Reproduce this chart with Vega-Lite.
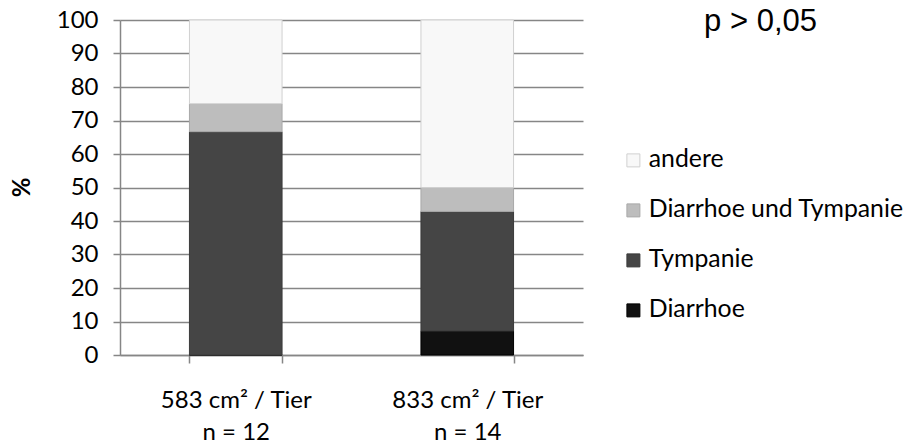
{
  "$schema": "https://vega.github.io/schema/vega-lite/v6.json",
  "width": 463,
  "height": 335,
  "autosize": "none",
  "padding": {"left": 120, "top": 20, "right": 320, "bottom": 89},
  "background": "white",
  "config": {"view": {"stroke": null}, "font": "Lato"},
  "title": {
    "text": "p > 0,05",
    "font": "Liberation Sans",
    "fontSize": 31,
    "fontWeight": "normal",
    "color": "#000000",
    "anchor": "end",
    "frame": "group",
    "offset": 0,
    "dx": 234,
    "dy": 30
  },
  "data": {
    "values": [
      {"group": "583 cm² / Tier\nn = 12", "series": "Diarrhoe", "percent": 0},
      {"group": "583 cm² / Tier\nn = 12", "series": "Tympanie", "percent": 66.67},
      {"group": "583 cm² / Tier\nn = 12", "series": "Diarrhoe und Tympanie", "percent": 8.33},
      {"group": "583 cm² / Tier\nn = 12", "series": "andere", "percent": 25},
      {"group": "833 cm² / Tier\nn = 14", "series": "Diarrhoe", "percent": 7.14},
      {"group": "833 cm² / Tier\nn = 14", "series": "Tympanie", "percent": 35.71},
      {"group": "833 cm² / Tier\nn = 14", "series": "Diarrhoe und Tympanie", "percent": 7.15},
      {"group": "833 cm² / Tier\nn = 14", "series": "andere", "percent": 50}
    ]
  },
  "transform": [
    {"calculate": "indexof(['Diarrhoe', 'Tympanie', 'Diarrhoe und Tympanie', 'andere'], datum.series)", "as": "stackorder"}
  ],
  "mark": {"type": "bar", "strokeWidth": 1},
  "encoding": {
    "x": {
      "field": "group",
      "type": "nominal",
      "sort": null,
      "scale": {"paddingInner": 0.6, "paddingOuter": 0.3},
      "axis": {
        "title": null,
        "labelAngle": 0,
        "labelExpr": "split(datum.label, '\\n')",
        "labelFontSize": 24,
        "labelColor": "#000000",
        "labelLineHeight": 32,
        "labelPadding": 25,
        "labelBaseline": "top",
        "tickBand": "extent",
        "tickSize": 8,
        "tickColor": "#868686",
        "tickWidth": 1.5,
        "domainColor": "#868686",
        "domainWidth": 1.5,
        "grid": false
      }
    },
    "y": {
      "field": "percent",
      "type": "quantitative",
      "stack": "zero",
      "scale": {"domain": [0, 100]},
      "axis": {
        "title": "%",
        "values": [0, 10, 20, 30, 40, 50, 60, 70, 80, 90, 100],
        "grid": true,
        "gridColor": "#868686",
        "gridWidth": 1.5,
        "tickSize": 7,
        "tickColor": "#868686",
        "tickWidth": 1.5,
        "domainColor": "#868686",
        "domainWidth": 1.5,
        "labelFontSize": 24,
        "labelColor": "#000000",
        "labelPadding": 15,
        "titleFontSize": 24,
        "titleFontWeight": "bold",
        "titleColor": "#000000",
        "titleAngle": -90,
        "titleX": -98,
        "titleY": 167,
        "titleAlign": "center",
        "titleBaseline": "middle"
      }
    },
    "order": {"field": "stackorder", "type": "quantitative", "sort": "ascending"},
    "color": {
      "field": "series",
      "type": "nominal",
      "scale": {
        "domain": ["andere", "Diarrhoe und Tympanie", "Tympanie", "Diarrhoe"],
        "range": ["#f8f8f8", "#bdbdbd", "#454545", "#111111"]
      },
      "legend": {
        "title": null,
        "orient": "none",
        "legendX": 501,
        "legendY": 128,
        "padding": 0,
        "labelFontSize": 24.8,
        "labelColor": "#000000",
        "labelOffset": 3,
        "labelLimit": 0,
        "symbolType": "square",
        "symbolSize": 169,
        "symbolStrokeColor": "#8a8a8a",
        "symbolStrokeWidth": 1,
        "rowPadding": 24
      }
    },
    "stroke": {
      "field": "series",
      "type": "nominal",
      "scale": {
        "domain": ["andere", "Diarrhoe und Tympanie", "Tympanie", "Diarrhoe"],
        "range": ["#d0d0d0", "#a8a8a8", "#3a3a3a", "#000000"]
      },
      "legend": null
    }
  }
}
